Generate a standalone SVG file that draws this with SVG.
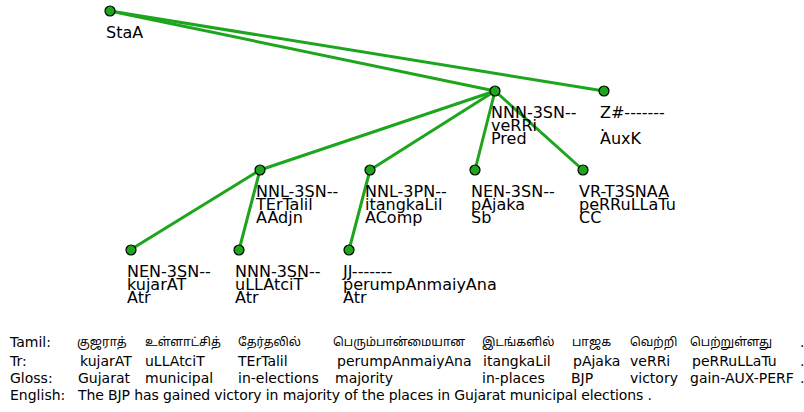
<svg xmlns="http://www.w3.org/2000/svg" width="804" height="412" viewBox="0 0 804 412">
  <style>
    .edge { stroke: #1ea51e; stroke-width: 3; fill: none; stroke-linecap: round; }
    .dot { fill: #1ea51e; stroke: #000; stroke-width: 1.2; }
    .lbl { font-family: "DejaVu Sans", sans-serif; font-size: 16px; fill: #000; }
    .row { font-family: "DejaVu Sans", "Noto Sans", sans-serif; font-size: 14px; fill: #000; }
    .ta { font-family: "Noto Sans Tamil", "Lohit Tamil", "Noto Serif Tamil", "DejaVu Sans", sans-serif; font-size: 12px; fill: #000; }
  </style>
  <rect width="804" height="412" fill="#fff"/>

  <!-- dependency edges -->
  <g id="edges">
    <line class="edge" x1="110" y1="11" x2="495" y2="91"/>
    <line class="edge" x1="110" y1="11" x2="604" y2="91"/>
    <line class="edge" x1="495" y1="91" x2="260" y2="170"/>
    <line class="edge" x1="495" y1="91" x2="370" y2="170"/>
    <line class="edge" x1="495" y1="91" x2="475" y2="170"/>
    <line class="edge" x1="495" y1="91" x2="583" y2="170"/>
    <line class="edge" x1="260" y1="170" x2="130" y2="250"/>
    <line class="edge" x1="260" y1="170" x2="239" y2="250"/>
    <line class="edge" x1="370" y1="170" x2="349" y2="250"/>
  </g>

  <g id="root">
    <circle class="dot" cx="110" cy="11" r="5"/>
    <text class="lbl" x="106" y="38">StaA</text>
  </g>
  <g id="n-veRRi">
    <circle class="dot" cx="495" cy="91" r="5"/>
    <text class="lbl" x="491" y="118">NNN-3SN--</text>
    <text class="lbl" x="491" y="131">veRRi</text>
    <text class="lbl" x="491" y="144">Pred</text>
  </g>
  <g id="n-dot">
    <circle class="dot" cx="604" cy="91" r="5"/>
    <text class="lbl" x="600" y="118">Z#-------</text>
    <text class="lbl" x="600" y="131">.</text>
    <text class="lbl" x="600" y="144">AuxK</text>
  </g>
  <g id="n-TErTalil">
    <circle class="dot" cx="260" cy="170" r="5"/>
    <text class="lbl" x="256" y="197">NNL-3SN--</text>
    <text class="lbl" x="256" y="210">TErTalil</text>
    <text class="lbl" x="256" y="223">AAdjn</text>
  </g>
  <g id="n-itangkaLil">
    <circle class="dot" cx="370" cy="170" r="5"/>
    <text class="lbl" x="365" y="197">NNL-3PN--</text>
    <text class="lbl" x="365" y="210">itangkaLil</text>
    <text class="lbl" x="365" y="223">AComp</text>
  </g>
  <g id="n-pAjaka">
    <circle class="dot" cx="475" cy="170" r="5"/>
    <text class="lbl" x="471" y="197">NEN-3SN--</text>
    <text class="lbl" x="471" y="210">pAjaka</text>
    <text class="lbl" x="471" y="223">Sb</text>
  </g>
  <g id="n-peRRuLLaTu">
    <circle class="dot" cx="583" cy="170" r="5"/>
    <text class="lbl" x="579" y="197">VR-T3SNAA</text>
    <text class="lbl" x="579" y="210">peRRuLLaTu</text>
    <text class="lbl" x="579" y="223">CC</text>
  </g>
  <g id="n-kujarAT">
    <circle class="dot" cx="131" cy="250" r="5"/>
    <text class="lbl" x="127" y="277">NEN-3SN--</text>
    <text class="lbl" x="127" y="290">kujarAT</text>
    <text class="lbl" x="127" y="303">Atr</text>
  </g>
  <g id="n-uLLAtciT">
    <circle class="dot" cx="239" cy="250" r="5"/>
    <text class="lbl" x="235" y="277">NNN-3SN--</text>
    <text class="lbl" x="235" y="290">uLLAtciT</text>
    <text class="lbl" x="235" y="303">Atr</text>
  </g>
  <g id="n-perumpAnmaiyAna">
    <circle class="dot" cx="349" cy="250" r="5"/>
    <text class="lbl" x="343" y="277">JJ-------</text>
    <text class="lbl" x="343" y="290">perumpAnmaiyAna</text>
    <text class="lbl" x="343" y="303">Atr</text>
  </g>

  <!-- interlinear gloss table -->
  <g id="gloss-table">
    <text class="row" x="10" y="347">Tamil:</text>
    <text class="ta" x="77" y="346">குஜராத்</text>
    <text class="ta" x="145" y="346">உள்ளாட்சித்</text>
    <text class="ta" x="238" y="346">தேர்தலில்</text>
    <text class="ta" x="333" y="346">பெரும்பான்மையான</text>
    <text class="ta" x="482" y="346">இடங்களில்</text>
    <text class="ta" x="572" y="346">பாஜக</text>
    <text class="ta" x="630" y="346">வெற்றி</text>
    <text class="ta" x="690" y="346">பெற்றுள்ளது</text>
    <text class="row" x="800" y="347">.</text>

    <text class="row" x="10" y="366">Tr:</text>
    <text class="row" x="80" y="366">kujarAT</text>
    <text class="row" x="145" y="366">uLLAtciT</text>
    <text class="row" x="238" y="366">TErTalil</text>
    <text class="row" x="337" y="366">perumpAnmaiyAna</text>
    <text class="row" x="483" y="366">itangkaLil</text>
    <text class="row" x="573" y="366">pAjaka</text>
    <text class="row" x="630" y="366">veRRi</text>
    <text class="row" x="692" y="366">peRRuLLaTu</text>
    <text class="row" x="800" y="366">.</text>

    <text class="row" x="10" y="383">Gloss:</text>
    <text class="row" x="78" y="383">Gujarat</text>
    <text class="row" x="145" y="383">municipal</text>
    <text class="row" x="238" y="383">in-elections</text>
    <text class="row" x="335" y="383">majority</text>
    <text class="row" x="482" y="383">in-places</text>
    <text class="row" x="571" y="383">BJP</text>
    <text class="row" x="630" y="383">victory</text>
    <text class="row" x="690" y="383">gain-AUX-PERF</text>
    <text class="row" x="800" y="383">.</text>

    <text class="row" x="10" y="400">English:</text>
    <text class="row" x="78" y="400" textLength="574" lengthAdjust="spacing">The BJP has gained victory in majority of the places in Gujarat municipal elections .</text>
  </g>
</svg>
